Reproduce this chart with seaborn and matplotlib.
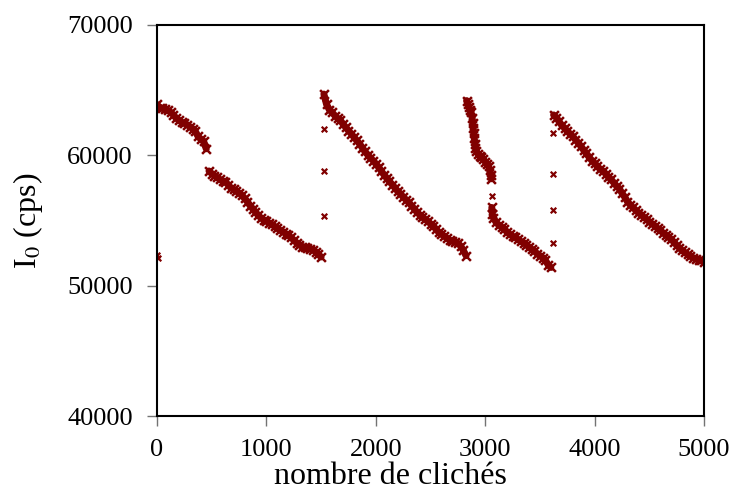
import numpy as np
import pandas as pd
import matplotlib
matplotlib.use("Agg")
import matplotlib.pyplot as plt
import seaborn as sns

# intensity I0 (cps), grouped by run
# run 1: clichés 0..450 step 25
run1_x = np.arange(0, 451, 25)
run1_y = [63900, 63650, 63600, 63550, 63450, 63300, 63100, 62850, 62700, 62550,
          62450, 62350, 62200, 62050, 61850, 61450, 61250, 61100, 60500]

# run 2: clichés 475..1500 step 25
run2_x = np.arange(475, 1501, 25)
run2_y = [58800, 58600, 58450, 58300, 58150, 58050, 57950, 57750, 57500, 57400,
          57250, 57100, 56950, 56700, 56450, 56150, 55900, 55650, 55400, 55200,
          55050, 54950, 54800, 54700, 54550, 54400, 54250, 54150, 54000, 53850,
          53700, 53500, 53300, 53150, 53000, 52950, 52900, 52850, 52750, 52600,
          52400, 52200]

# run 3: clichés 1525..2825 step 25
run3_x = np.arange(1525, 2826, 25)
run3_y = [64700, 63900, 63500, 63300, 63050, 62850, 62700, 62400, 62150, 61900,
          61650, 61400, 61150, 60900, 60600, 60300, 60050, 59800, 59600, 59350,
          59100, 58800, 58500, 58250, 58000, 57750, 57500, 57250, 57050, 56800,
          56600, 56400, 56150, 55900, 55650, 55450, 55250, 55100, 54950, 54750,
          54550, 54350, 54100, 53950, 53800, 53650, 53500, 53400, 53350, 53250,
          53050, 52700, 52300]

# run 4: short steep run
run4_x = [2830, 2840, 2850, 2860, 2870, 2880, 2885, 2890, 2895, 2900, 2905, 2910,
          2920, 2935, 2950, 2965, 2980, 3000, 3015, 3030, 3040, 3050, 3055]
run4_y = [64200, 63900, 63700, 63500, 63300, 62900, 62500, 62100, 61700, 61300,
          60900, 60600, 60300, 60100, 59950, 59850, 59750, 59500, 59350, 59200,
          58900, 58500, 58200]

# run 5
run5_x = [3060, 3065, 3075] + list(range(3100, 3601, 25))
run5_y = [56000, 55500, 55200, 54850, 54650, 54500, 54350, 54100, 53950, 53800,
          53700, 53550, 53400, 53300, 53150, 52950, 52800, 52650, 52450, 52300,
          52150, 51950, 51600, 51400]

# run 6: clichés 3625..5000 step 25
run6_x = np.arange(3625, 5001, 25)
run6_y = [63100, 62900, 62600, 62300, 62100, 61850, 61650, 61450, 61200, 60950,
          60700, 60400, 60150, 59850, 59600, 59400, 59150, 58950, 58800, 58600,
          58350, 58150, 57900, 57650, 57450, 57100, 56800, 56450, 56200, 56000,
          55800, 55600, 55450, 55250, 55100, 54900, 54750, 54600, 54400, 54250,
          54050, 53900, 53750, 53550, 53350, 53100, 52900, 52700, 52550, 52400,
          52250, 52150, 52050, 52000, 51950, 51850]

# isolated points between runs
lone_x = [0, 5, 1525, 1525, 1525, 3060, 3620, 3620, 3620, 3620]
lone_y = [52350, 52150, 62050, 58800, 55370, 56900, 61700, 58550, 55800, 53300]

all_x = [run1_x, run2_x, run3_x, run4_x, run5_x, run6_x]
all_y = [run1_y, run2_y, run3_y, run4_y, run5_y, run6_y]
runs = pd.concat(
    [pd.DataFrame({"x": xs, "y": ys, "run": i}) for i, (xs, ys) in enumerate(zip(all_x, all_y))],
    ignore_index=True,
)
lone = pd.DataFrame({"x": lone_x, "y": lone_y})

sns.set_theme(style="white")
plt.rcParams["font.family"] = ["Liberation Serif", "DejaVu Serif"]
plt.rcParams["mathtext.fontset"] = "stix"
plt.rcParams["text.color"] = "black"
plt.rcParams["axes.labelcolor"] = "black"

red = "#800000"

fig = plt.figure(figsize=(7.31, 4.90), dpi=100)
ax = fig.add_axes([0.2148, 0.151, 0.7483, 0.798])

# the points are so dense they form a band: thick trace per run plus x marks
for i, grp in runs.groupby("run"):
    sns.lineplot(x=grp["x"].values, y=grp["y"].values, sort=False, ax=ax,
                 color=red, linewidth=5.0)
sns.scatterplot(data=runs, x="x", y="y", ax=ax, marker="x", color=red,
                s=40, linewidth=1.8, legend=False)
sns.scatterplot(data=lone, x="x", y="y", ax=ax, marker="x", color=red,
                s=16, linewidth=1.6, legend=False)

ax.set_xlim(0, 5000)
ax.set_ylim(40000, 70000)
ax.set_xticks([0, 1000, 2000, 3000, 4000, 5000])
ax.set_yticks([40000, 50000, 60000, 70000])

ax.set_xlabel("nombre de clichés", fontsize=23)
ax.xaxis.set_label_coords(0.426, -0.117, transform=ax.transAxes)
ax.set_ylabel("I$_0$ (cps)", fontsize=23, labelpad=16)

ax.tick_params(axis="both", direction="out", length=7, width=1.0,
               labelsize=19, color="0.45", labelcolor="black")
ax.tick_params(axis="x", bottom=True, pad=9.5)
ax.tick_params(axis="y", left=True, pad=10.5)
for sp in ax.spines.values():
    sp.set_color("black")
    sp.set_linewidth(1.5)

fig.savefig("out.png", dpi=100)
